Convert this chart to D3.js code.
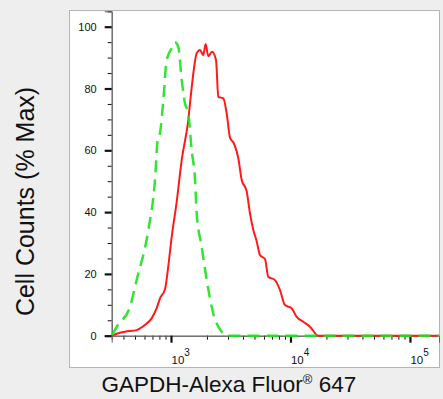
<!doctype html>
<html>
<head>
<meta charset="utf-8">
<script src="https://d3js.org/d3.v7.min.js"></script>
<style>
  body { margin: 0; background: #eeeeee; }
  svg { display: block; font-family: "Liberation Sans", Arial, sans-serif; }
</style>
</head>
<body>
<svg width="443" height="399"></svg>
<script>
// isotype control (green dashed) and GAPDH stained sample (red)
var greenX = [321, 352, 454, 516, 646, 735, 774, 809, 863, 920, 1014, 1079, 1151, 1230, 1309, 1396, 1489, 1589, 1641, 1807, 1991, 2259, 2655, 2924, 175000];
var greenY = [0.2, 2.9, 9.4, 18.0, 34.2, 50.4, 63.3, 65.5, 76.3, 89.2, 93.0, 95.0, 93.5, 82.8, 75.2, 72.0, 60.1, 50.4, 39.6, 28.8, 18.0, 7.2, 1.3, 0, 0];

var redX = [319, 362, 412, 516, 605, 689, 759, 809, 891, 948, 1014, 1117, 1230, 1396, 1489, 1641, 1750, 1862, 1950, 2051, 2203, 2382, 2489, 2742, 2924, 3119, 3365, 3656, 3908, 4295, 4581, 4887, 5212, 5559, 6124, 6516, 7413, 8166, 8995, 10233, 11272, 12794, 14555, 17100, 175000];
var redY = [0, 0.8, 1.3, 1.8, 3.5, 5.6, 8.9, 12.1, 15.0, 22.3, 32.0, 43.4, 56.9, 69.8, 80.2, 91.4, 92.5, 90.8, 94.4, 90.5, 91.9, 89.2, 77.3, 76.8, 72.0, 64.1, 62.2, 57.5, 50.4, 46.8, 39.6, 34.2, 30.6, 26.1, 24.8, 19.1, 18.0, 14.8, 9.9, 8.9, 6.1, 4.5, 2.9, 0, 0];

var yMajor = [0, 20, 40, 60, 80, 100];
var xMajor = [1e3, 1e4, 1e5];
var xExp = ["3", "4", "5"];

var svg = d3.select("svg");

// white plot panel
svg.append("rect")
   .attr("x", 69.5).attr("y", 10.5)
   .attr("width", 370).attr("height", 357)
   .attr("fill", "#fff").attr("stroke", "#b4b4b4");

var x = d3.scaleLog().domain([319, 175000]).range([111.7, 439]);
var y = d3.scaleLinear().domain([0, 105]).range([335.7, 11.25]);

// minor ticks
var yMinor = d3.range(0, 106, 5).filter(function(v) { return v % 20 != 0; });
var xMinor = [];
[100, 1000, 10000, 100000].forEach(function(b) {
    for (var k = 2; k <= 9; k++) {
        var v = b * k;
        if (v > 319 && v < 175000) xMinor.push(v);
    }
});

var yAxisG = svg.append("g").attr("transform", "translate(111.7,0)");
yAxisG.call(d3.axisLeft(y).tickValues(yMinor).tickSize(4).tickFormat(""));
yAxisG.append("g").call(d3.axisLeft(y).tickValues(yMajor).tickSize(7).tickPadding(8));

var xAxisG = svg.append("g").attr("transform", "translate(0,335.7)");
xAxisG.call(d3.axisBottom(x).tickValues(xMinor).tickSize(4).tickFormat(""));
xAxisG.append("g").call(d3.axisBottom(x).tickValues(xMajor).tickSize(7).tickFormat(""));

svg.selectAll(".domain").attr("stroke", "#666");
svg.selectAll(".tick line").attr("stroke", "#111");
yAxisG.selectAll("g g .tick line").attr("stroke-width", 2.2);
xAxisG.selectAll("g g .tick line").attr("stroke-width", 2.2);
yAxisG.selectAll("text").attr("font-size", 11).attr("fill", "#111")
      .attr("font-family", "Liberation Sans, Arial, sans-serif");

// x labels 10^n
var xl = svg.append("g").selectAll("text").data(xMajor).enter().append("text")
    .attr("x", function(d) { return x(d) + 0.5; })
    .attr("y", 363.5)
    .attr("font-size", 11.5)
    .attr("fill", "#111");
xl.append("tspan").text("10");
xl.append("tspan").attr("dy", -7.5).attr("font-size", 10).text(function(d, i) { return xExp[i]; });

// curves
var line = d3.line()
    .x(function(d) { return x(d[0]); })
    .y(function(d) { return y(d[1]); })
    .curve(d3.curveMonotoneX);

svg.append("path")
   .datum(redX.map(function(v, i) { return [v, redY[i]]; }))
   .attr("d", line)
   .attr("fill", "none")
   .attr("stroke", "#ff1a1a")
   .attr("stroke-width", 2);

svg.append("path")
   .datum(greenX.map(function(v, i) { return [v, greenY[i]]; }))
   .attr("d", line)
   .attr("fill", "none")
   .attr("stroke", "#1de21d")
   .attr("stroke-width", 2.5)
   .attr("stroke-dasharray", "12,7")
   .attr("opacity", 0.9);

// axis titles
var xt = svg.append("text")
   .attr("x", 101.5).attr("y", 391.5)
   .attr("font-size", 22.5).attr("fill", "#111");
xt.append("tspan").text("GAPDH-Alexa Fluor");
xt.append("tspan").attr("font-size", 13).attr("dy", -8).text("®");
xt.append("tspan").attr("dy", 8).text(" 647");

svg.append("text")
   .attr("transform", "translate(34,201.5) rotate(-90)")
   .attr("text-anchor", "middle")
   .attr("font-size", 25)
   .attr("fill", "#111")
   .text("Cell Counts (% Max)");
</script>
</body>
</html>
